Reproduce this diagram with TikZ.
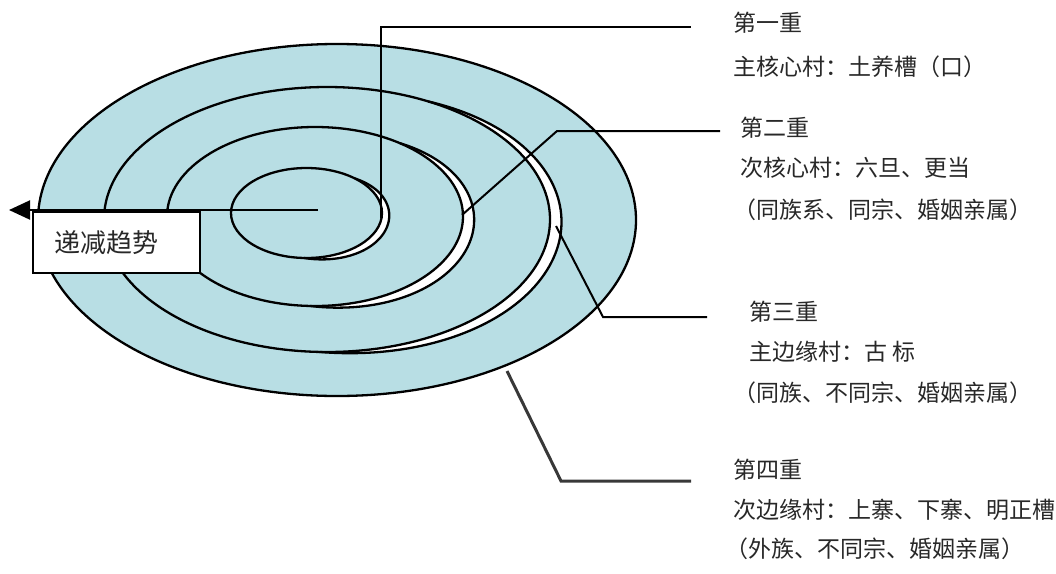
\documentclass[tikz,border=0pt]{standalone}
\usepackage{fontspec}
\newfontfamily\cjk{Noto Sans CJK SC}
\usetikzlibrary{arrows.meta}
\definecolor{ringblue}{RGB}{184,222,228}
\definecolor{labelgray}{RGB}{40,40,40}
\newcommand\ringpiece[7]{% cx cy rx ry W ts te
  \fill[white] plot[domain=#6:#7,samples=90,variable=\t]
    ({#1+(#3+#5*sin(((\t-(#6))/((#7)-(#6)))*180))*cos(\t)},
     {#2+(#4+#5*sin(((\t-(#6))/((#7)-(#6)))*180))*sin(\t)}) -- cycle;
  \filldraw[ringline, fill=ringblue] (#1,#2) ellipse [x radius=#3, y radius=#4];
  \draw[ringline] plot[domain=#6:#7,samples=90,variable=\t]
    ({#1+(#3+#5*sin(((\t-(#6))/((#7)-(#6)))*180))*cos(\t)},
     {#2+(#4+#5*sin(((\t-(#6))/((#7)-(#6)))*180))*sin(\t)});
}
\begin{document}
\begin{tikzpicture}[x=1pt,y=-1pt,
  ringline/.style={draw=black,line width=2.3pt},
  leader/.style={draw=black,line width=2pt},
  leaderfour/.style={draw=black!78,line width=3pt},
  lbl/.style={anchor=west,inner sep=0pt,text=labelgray,font=\cjk\fontsize{23}{23}\selectfont},
  trendbox/.style={draw=black,line width=2pt,fill=white,anchor=north west,
    minimum height=61pt,inner xsep=21pt,inner ysep=0pt,text width=125pt,align=left,
    font=\cjk\fontsize{26}{26}\selectfont,text=labelgray}]
\useasboundingbox (0,0) rectangle (1056,573);

% outer disc
\filldraw[ringline, fill=ringblue] (337,220) ellipse [x radius=299, y radius=176];
% spiral rings
\ringpiece{327}{219.5}{223}{132.5}{12}{-63}{92}
\ringpiece{315}{216.5}{148}{89.5}{12}{-55}{92}
\ringpiece{306.5}{213}{75.5}{45}{8}{-50}{92}

% coordinates
\coordinate (ctr) at (318,210);
\coordinate (tip) at (9,210);
\coordinate (s1) at (381,218);
\coordinate (b1) at (381,27);
\coordinate (e1) at (691,27);
\coordinate (s2) at (462,215);
\coordinate (b2) at (557,131);
\coordinate (e2) at (720,131);
\coordinate (s3) at (556,226);
\coordinate (b3) at (603,317);
\coordinate (e3) at (707,317);
\coordinate (s4) at (507,371);
\coordinate (b4) at (561,481);
\coordinate (e4) at (691,481);

% trend arrow
\draw[leader,-{Triangle[length=21pt,width=19pt]}] (ctr) -- (tip);
\node[trendbox] (trend) at (32,211) {递减趋势};

% leader lines
\draw[leader] (s1) -- (b1) -- (e1);
\draw[leader] (s2) -- (b2) -- (e2);
\draw[leader] (s3) -- (b3) -- (e3);
\draw[leaderfour] (s4) -- (b4) -- (e4);

% labels
\node[lbl] (l1a) at (733,23) {第一重};
\node[lbl] (l1b) at (733,67) {主核心村：土养槽（口）};
\node[lbl] (l2a) at (740,128) {第二重};
\node[lbl] (l2b) at (740,168) {次核心村：六旦、更当};
\node[lbl] (l2c) at (733,210) {（同族系、同宗、婚姻亲属）};
\node[lbl] (l3a) at (749,312) {第三重};
\node[lbl] (l3b) at (749,352) {主边缘村：古 标};
\node[lbl] (l3c) at (733,393) {（同族、不同宗、婚姻亲属）};
\node[lbl] (l4a) at (733,470) {第四重};
\node[lbl] (l4b) at (733,510) {次边缘村：上寨、下寨、明正槽};
\node[lbl] (l4c) at (725,549) {（外族、不同宗、婚姻亲属）};
\end{tikzpicture}
\end{document}
